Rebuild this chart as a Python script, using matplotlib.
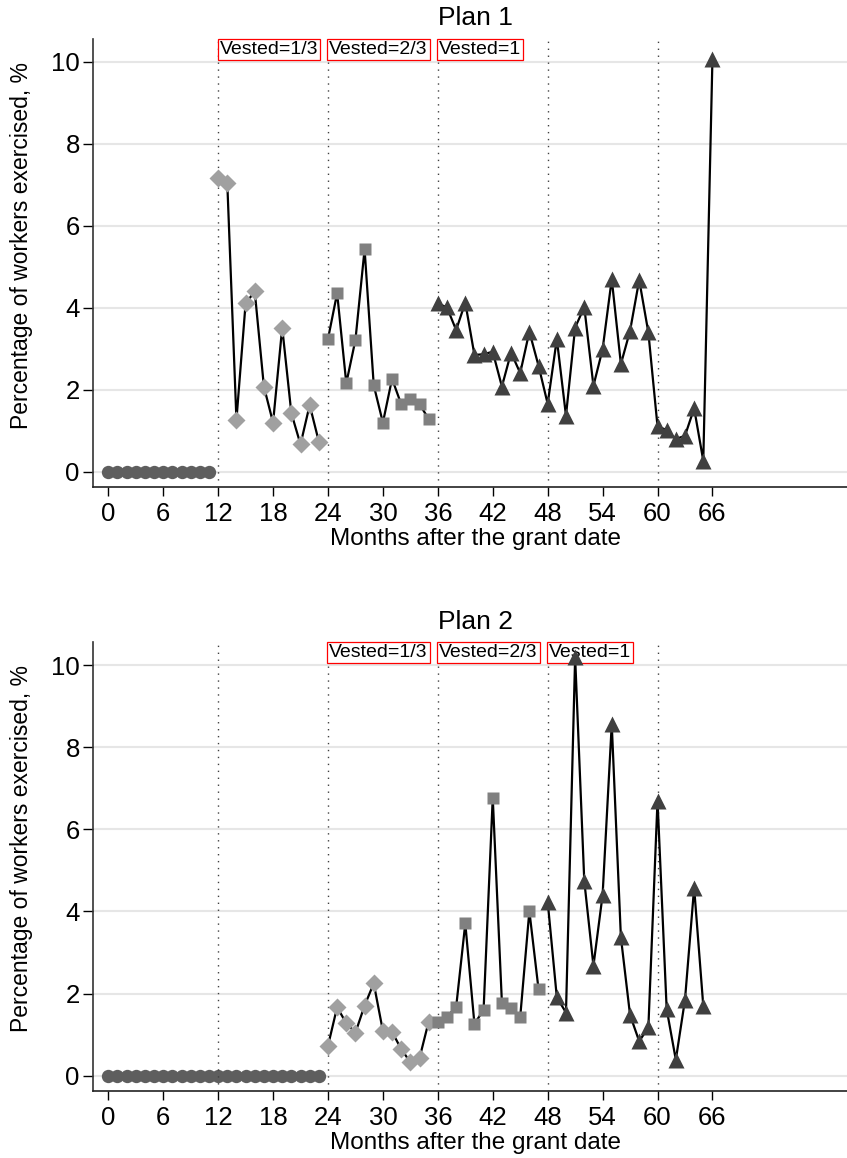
import matplotlib
matplotlib.use("Agg")
import matplotlib.pyplot as plt

plt.rcParams["font.family"] = ["Liberation Sans", "DejaVu Sans"]

# ---- data (percent of workers exercising, by month) ----
plan1_unvested = [0, 0, 0, 0, 0, 0, 0, 0, 0, 0, 0, 0]                      # months 0-11
plan1_third = [7.18, 7.04, 1.27, 4.11, 4.40, 2.08, 1.20, 3.52, 1.43, 0.67,
               1.63, 0.74]                                                   # months 12-23
plan1_two_thirds = [3.24, 4.36, 2.16, 3.22, 5.43, 2.11, 1.20, 2.27, 1.65, 1.78,
                    1.65, 1.29]                                              # months 24-35
plan1_full = [4.11, 4.01, 3.46, 4.13, 2.85, 2.87, 2.93, 2.08, 2.91, 2.41,
              3.42, 2.59, 1.66, 3.24, 1.37, 3.52, 4.02, 2.10, 2.99, 4.70,
              2.63, 3.44, 4.68, 3.40, 1.11, 1.02, 0.80, 0.88, 1.55, 0.27,
              10.07]                                                         # months 36-66

plan2_unvested = [0, 0, 0, 0, 0, 0, 0, 0, 0, 0, 0, 0,
                  0, 0, 0, 0, 0, 0, 0, 0, 0, 0, 0, 0]                        # months 0-23
plan2_third = [0.73, 1.67, 1.28, 1.05, 1.71, 2.25, 1.09, 1.07, 0.65, 0.33,
               0.43, 1.32]                                                   # months 24-35
plan2_two_thirds = [1.32, 1.44, 1.67, 3.71, 1.26, 1.61, 6.77, 1.78, 1.66, 1.43,
                    4.01, 2.11]                                              # months 36-47
plan2_full = [4.24, 1.91, 1.54, 10.19, 4.74, 2.68, 4.40, 8.56, 3.37, 1.48,
              0.84, 1.18, 6.70, 1.62, 0.39, 1.85, 4.58, 1.70]                # months 48-65

vesting_months = [12, 24, 36, 48, 60]
vest_labels = ["Vested=1/3", "Vested=2/3", "Vested=1"]
plan1_label_months = [12, 24, 36]
plan2_label_months = [24, 36, 48]
x_ticks = [0, 6, 12, 18, 24, 30, 36, 42, 48, 54, 60, 66]
y_ticks = [0, 2, 4, 6, 8, 10]

# ---- styles ----
C_UNVESTED = "#5e5e5e"
C_THIRD = "#a0a0a0"
C_TWO = "#808080"
C_FULL = "#404040"
W, H = 847, 1158


def phase(start, values):
    return list(range(start, start + len(values))), values


def draw_plan(ax, segments, label_months, title, title_y):
    # unvested: circles only
    xs, ys = segments[0]
    ax.plot(xs, ys, linestyle="none", marker="o", ms=9.6, color=C_UNVESTED,
            mec="none", zorder=2)
    for (xs, ys), mk, col, ms in zip(segments[1:], ["D", "s", "^"],
                                     [C_THIRD, C_TWO, C_FULL], [9.4, 8.8, 11.5]):
        ax.plot(xs, ys, color="black", lw=1.6, marker=mk, ms=ms, mfc=col,
                mec="none", zorder=4)

    for m in vesting_months:
        ax.axvline(m, color="#404040", lw=1.0, dashes=(1, 4), zorder=3)
    for m, lab in zip(label_months, vest_labels):
        ax.text(m + 0.15, 10.1, lab, fontsize=14, ha="left", va="bottom",
                zorder=3.5,
                bbox=dict(boxstyle="square,pad=0.1", fc="white", ec="red", lw=0.9))

    ax.set_xlim(-1.67, 80.7)
    ax.set_ylim(-0.37, 10.56)
    ax.set_xticks(x_ticks)
    ax.set_yticks(y_ticks)
    ax.grid(axis="y", color="#e6e6e6", lw=1.5, zorder=0)
    ax.set_axisbelow(True)
    for s in ["top", "right"]:
        ax.spines[s].set_visible(False)
    ax.spines["left"].set_color("#333333")
    ax.spines["bottom"].set_color("#222222")
    ax.spines["left"].set_linewidth(1.2)
    ax.spines["bottom"].set_linewidth(1.2)
    ax.tick_params(axis="x", length=6.5, width=1, pad=4.5, labelsize=18.5)
    ax.tick_params(axis="y", length=7, width=1, pad=2.5, labelsize=18.5)

    ax.set_xlabel("Months after the grant date", fontsize=17.5)
    ax.xaxis.set_label_coords(0.507, -0.092)
    ax.set_ylabel("Percentage of workers exercised, %", fontsize=16.5)
    ax.yaxis.set_label_coords(-0.08, 0.54)
    ax.figure.text(475 / W, 1 - title_y / H, title, fontsize=19,
                   ha="center", va="center")


fig = plt.figure(figsize=(W / 100, H / 100), dpi=100)
ax1 = fig.add_axes([93 / W, 1 - 487 / H, 1 - 93 / W, 448 / H])
ax2 = fig.add_axes([93 / W, 1 - 1091 / H, 1 - 93 / W, 449 / H])

plan1 = [phase(0, plan1_unvested), phase(12, plan1_third),
         phase(24, plan1_two_thirds), phase(36, plan1_full)]
plan2 = [phase(0, plan2_unvested), phase(24, plan2_third),
         phase(36, plan2_two_thirds), phase(48, plan2_full)]

draw_plan(ax1, plan1, plan1_label_months, "Plan 1", 18)
draw_plan(ax2, plan2, plan2_label_months, "Plan 2", 622)

fig.savefig("out.png", dpi=100)
